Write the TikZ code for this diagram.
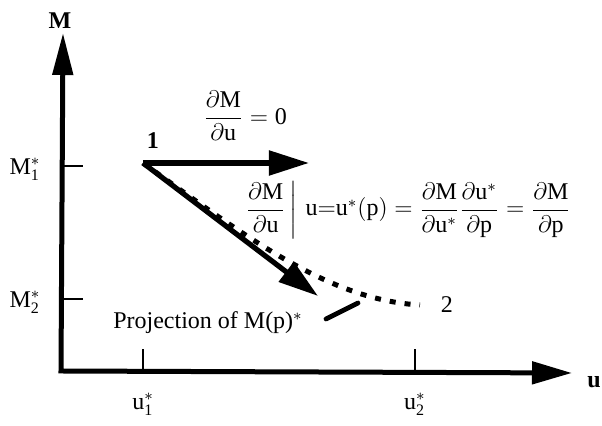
\documentclass[tikz,border=0pt]{standalone}
\usepackage{amsmath}
\usepackage{fontspec}
\setmainfont{Liberation Serif}
\usetikzlibrary{arrows.meta}

\begin{document}
\begin{tikzpicture}[
    x=0.5pt,
    y=-0.5pt,
    axis/.style={line width=2.5pt, line join=miter},
    vec/.style={line width=2.6pt, -{Triangle[length=20pt,width=12pt]}},
    path dots/.style={line width=2.5pt, dash pattern=on 3pt off 4.5pt},
    tickmark/.style={line width=1.1pt},
    lbl/.style={font=\fontsize{12pt}{14pt}\selectfont, inner sep=1pt}
]

% 0. Frame of the page
\useasboundingbox (0,0) rectangle (602,426);

% 1. Axes (M vertical, u horizontal)
\coordinate (O) at (61,371);
\coordinate (Mtop) at (63,33);
\coordinate (uend) at (572,373);
\draw[axis, {Triangle[length=21pt,width=10pt]}-{Triangle[length=20pt,width=11pt]}] (Mtop) -- (O) -- (uend);
\node[lbl, font=\fontsize{12pt}{14pt}\selectfont\bfseries] (Mlab) at (60,21) {M};
\node[lbl, font=\fontsize{12pt}{14pt}\selectfont\bfseries] (ulab) at (594,382) {u};

% 2. Ticks and their labels
% M-axis ticks
\foreach \y/\k in {166/1, 299/2} {
    \draw[tickmark] (62,\y) -- (83,\y);
    \node[lbl] (M\k) at (25,\y+3) {$\mathrm{M}^{\mathbf{*}}_{\mathrm{\k}}$};
}
% u-axis ticks
\foreach \x/\k in {143/1, 415/2} {
    \draw[tickmark] (\x,372) -- (\x,349);
    \node[lbl] (u\k) at (\x,404) {$\mathrm{u}^{\mathbf{*}}_{\mathrm{\k}}$};
}

% 3. Points 1 and 2
\coordinate (P1) at (143,163);
\coordinate (P2) at (420,305);
\node[lbl, font=\fontsize{12pt}{14pt}\selectfont\bfseries] (lab1) at (153,141) {1};
\node[lbl] (lab2) at (447,305) {2};

% 4. Path of M(p) (dotted) and the two gradient arrows
\draw[path dots] (P1) .. controls (250,240) and (330,300) .. (P2);
\coordinate (Hend) at (309,163);
\coordinate (Dend) at (318,296);
\draw[vec] (P1) -- (Hend);
\draw[vec] (P1) -- (Dend);

% 5. Projection segment and its label
\coordinate (projA) at (326,319);
\coordinate (projB) at (358,303);
\draw[line width=2.4pt, line cap=round] (projA) -- (projB);
\node[lbl] (projlab) at (208,323) {Projection of M(p)$^{\mathbf{*}}$};

% 6. Equations
\node[lbl, anchor=west] (eqzero) at (201,116)
    {$\dfrac{\partial\mathrm{M}}{\partial\mathrm{u}} = \mathrm{0}$};
\node[lbl, anchor=west] (eqchain) at (241,210)
    {$\left.\dfrac{\partial\mathrm{M}}{\partial\mathrm{u}}\,\right|\,\mathrm{u{=}u^{*}(p)}
      = \dfrac{\partial\mathrm{M}}{\partial\mathrm{u}^{*}}\dfrac{\partial\mathrm{u}^{*}}{\partial\mathrm{p}}
      = \dfrac{\partial\mathrm{M}}{\partial\mathrm{p}}$};

\end{tikzpicture}
\end{document}
